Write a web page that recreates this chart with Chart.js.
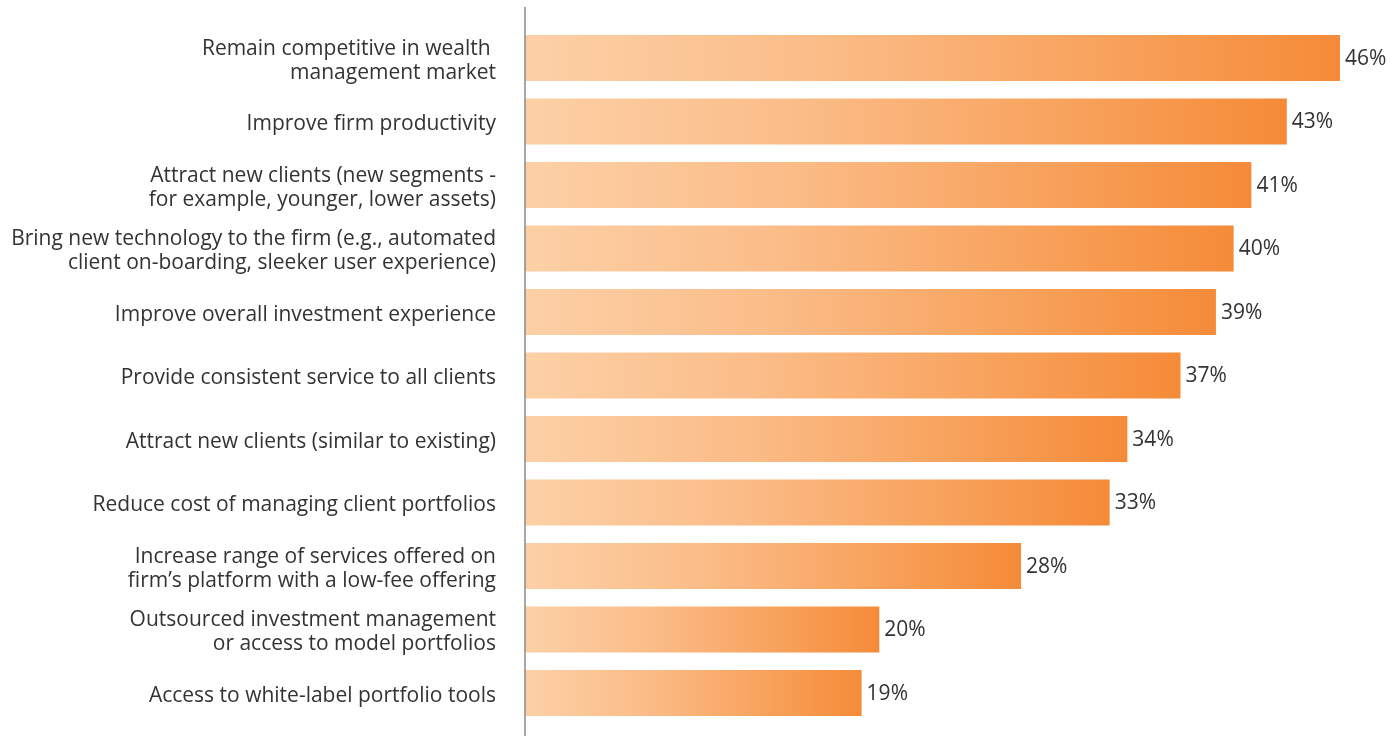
<!DOCTYPE html>
<html>
<head>
<meta charset="utf-8">
<script src="https://cdn.jsdelivr.net/npm/chart.js@4.4.1/dist/chart.umd.min.js"></script>
<style>
  html, body { margin: 0; padding: 0; background: #ffffff; }
  #wrap { width: 1400px; height: 736px; position: relative; }
</style>
</head>
<body>
<div id="wrap"><canvas id="c" width="1400" height="736"></canvas></div>
<script>
// Survey responses: reasons for adopting the offering
const categories = [
  ["Remain competitive in wealth ", "management market"],
  "Improve firm productivity",
  ["Attract new clients (new segments -", "for example, younger, lower assets)"],
  ["Bring new technology to the firm (e.g., automated", "client on-boarding, sleeker user experience)"],
  "Improve overall investment experience",
  "Provide consistent service to all clients",
  "Attract new clients (similar to existing)",
  "Reduce cost of managing client portfolios",
  ["Increase range of services offered on", "firm\u2019s platform with a low-fee offering"],
  ["Outsourced investment management", "or access to model portfolios"],
  "Access to white-label portfolio tools"
];
const shares = [46, 43, 41, 40, 39, 37, 34, 33, 28, 20, 19];
const valueLabels = shares.map(v => v + "%");

const FONT = "'Open Sans', 'Noto Sans', sans-serif";
const TEXT = "#333333";

// Peach-to-orange fill running along each bar
function barFill(ctx) {
  const chart = ctx.chart;
  const area = chart.chartArea;
  if (!area || ctx.type !== 'data') return '#f7a35c';
  const x0 = chart.scales.x.getPixelForValue(0);
  const x1 = chart.scales.x.getPixelForValue(ctx.raw);
  const g = chart.ctx.createLinearGradient(x0, 0, x1, 0);
  g.addColorStop(0, '#fcd0a6');
  g.addColorStop(0.35, '#fbbd89');
  g.addColorStop(0.7, '#f8a35e');
  g.addColorStop(1, '#f58b38');
  return g;
}

// Vertical baseline along the category axis
const baseline = {
  id: 'baseline',
  afterDatasetsDraw(chart) {
    const c = chart.ctx;
    const x = chart.chartArea.left;
    c.save();
    c.strokeStyle = '#8a8a8a';
    c.lineWidth = 1.5;
    c.beginPath();
    c.moveTo(x, 7);
    c.lineTo(x, chart.height);
    c.stroke();
    c.restore();
  }
};

// Percentage labels at the end of each bar
const endLabels = {
  id: 'endLabels',
  afterDatasetsDraw(chart) {
    const c = chart.ctx;
    const meta = chart.getDatasetMeta(0);
    c.save();
    c.font = "21px " + FONT;
    c.fillStyle = TEXT;
    c.textAlign = 'left';
    c.textBaseline = 'middle';
    meta.data.forEach((bar, i) => {
      c.fillText(valueLabels[i], bar.x + 5, bar.y + 1);
    });
    c.restore();
  }
};

new Chart(document.getElementById('c'), {
  type: 'bar',
  data: {
    labels: categories,
    datasets: [{
      data: shares,
      backgroundColor: barFill,
      borderWidth: 0,
      barPercentage: 1,
      categoryPercentage: 0.724
    }]
  },
  options: {
    indexAxis: 'y',
    responsive: false,
    animation: false,
    layout: { padding: { top: 26.25, bottom: 11.25, left: 0, right: 24.6 } },
    plugins: { legend: { display: false }, tooltip: { enabled: false } },
    scales: {
      x: {
        display: false,
        min: 0,
        max: 48
      },
      y: {
        afterFit(scale) {
          scale.width = 525;
          scale.paddingTop = 0;
          scale.paddingBottom = 0;
        },
        grid: { display: false, drawTicks: false },
        border: { display: false },
        ticks: {
          padding: 29,
          labelOffset: 3,
          color: TEXT,
          font: { family: FONT, size: 21, lineHeight: '24px' }
        }
      }
    }
  },
  plugins: [baseline, endLabels]
});
</script>
</body>
</html>
